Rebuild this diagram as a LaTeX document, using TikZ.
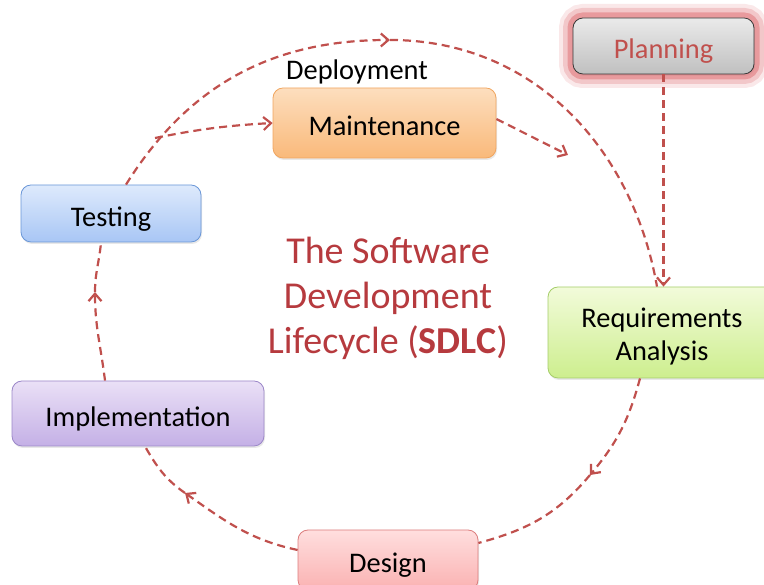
\documentclass[tikz,border=0pt]{standalone}
\usepackage{fontspec}
\setmainfont{Carlito}
\usepackage{tikz}
\usetikzlibrary{arrows.meta, calc, shadows}

\definecolor{flowred}{RGB}{192,80,77}
\definecolor{titlered}{RGB}{182,58,62}
\definecolor{glowred}{RGB}{220,100,105}

\begin{document}
\begin{tikzpicture}[x=1pt, y=1pt,
  box/.style={rounded corners=10pt, draw, line width=0.8pt, inner sep=0pt,
    font=\fontsize{28.4}{33}\selectfont, text height=26pt, text depth=0pt,
    drop shadow={opacity=0.18, shadow xshift=1pt, shadow yshift=-2pt}},
  glow/.style={preaction={draw=glowred, line width=28pt, opacity=0.15, rounded corners=10pt},
    preaction={draw=glowred, line width=20pt, opacity=0.25, rounded corners=10pt},
    preaction={draw=glowred, line width=11pt, opacity=0.45, rounded corners=10pt}},
  flow/.style={flowred, line width=2.2pt, dash pattern=on 8pt off 5pt},
  flowtip/.style={-{Straight Barb[length=7.5pt, width=13pt]}}]
\useasboundingbox (0,0) rectangle (764,585);

\node[box, glow, drop shadow={opacity=0}, draw={rgb,255:red,55;green,55;blue,55},
  top color={rgb,255:red,234;green,234;blue,234}, bottom color={rgb,255:red,192;green,192;blue,192},
  minimum width=181pt, minimum height=56pt, text=flowred]
  (planning) at (663.5,539) {Planning};
\node[box, draw={rgb,255:red,240;green,165;blue,95}, top color={rgb,255:red,253;green,222;blue,190},
  bottom color={rgb,255:red,249;green,185;blue,122}, minimum width=223pt, minimum height=70pt]
  (maint) at (384.5,462) {Maintenance};
\node[box, draw={rgb,255:red,105;green,150;blue,215}, top color={rgb,255:red,222;green,234;blue,252},
  bottom color={rgb,255:red,168;green,198;blue,245}, minimum width=180pt, minimum height=57pt]
  (testing) at (111,371.5) {Testing};
\node[box, draw={rgb,255:red,165;green,205;blue,105}, top color={rgb,255:red,242;green,251;blue,218},
  bottom color={rgb,255:red,205;green,238;blue,142}, minimum width=228pt, minimum height=91pt,
  text height=0pt, text depth=10.4pt]
  (req) at (662,252.5) {\begin{tabular}[t]{@{}c@{}}Requirements\\Analysis\end{tabular}};
\node[box, draw={rgb,255:red,155;green,135;blue,200}, top color={rgb,255:red,234;green,224;blue,246},
  bottom color={rgb,255:red,196;green,176;blue,230}, minimum width=252pt, minimum height=65pt]
  (impl) at (138,171.5) {Implementation};
\node[box, draw={rgb,255:red,220;green,125;blue,125}, top color={rgb,255:red,255;green,222;blue,222},
  bottom color={rgb,255:red,250;green,178;blue,178}, minimum width=180pt, minimum height=60pt]
  (design) at (388,25) {Design};

\node[font=\fontsize{28.4}{33}\selectfont] (deploy) at (357,513) {Deployment};
\node[font=\fontsize{38}{45}\selectfont, text=titlered, align=center] (title) at (388,286.5)
  {The Software\\Development\\Lifecycle (\textbf{SDLC})};

\coordinate (topmid) at (390,545);
\coordinate (branch) at (155,447);
\coordinate (deployend) at (568,430);
\coordinate (reqmid) at (590,110);
\coordinate (desmid) at (185,92);
\coordinate (impmid) at (95,293);

\draw[flow, flowtip] ([xshift=15pt]testing.north) to[out=58, in=180] (topmid);
\draw[flow] (topmid) to[out=0, in=100] ([xshift=-5pt]req.north);
\draw[flow, flowtip] (branch) to[bend left=4] (maint.west);
\draw[flow, flowtip] ([yshift=4pt]maint.east) -- (deployend);
\draw[flow, flowtip] ([xshift=-22pt]req.south) to[out=-105, in=50] (reqmid);
\draw[flow] (reqmid) to[out=-130, in=15] ([yshift=17pt]design.east);
\draw[flow, flowtip] ([yshift=10pt]design.west) to[out=168, in=-35] (desmid);
\draw[flow] (desmid) to[out=145, in=-60] ([xshift=7pt]impl.south);
\draw[flow, flowtip] ([xshift=-33pt]impl.north) to[out=97, in=-90] (impmid);
\draw[flow] (impmid) to[out=90, in=-95] ([xshift=-10pt]testing.south);
\draw[flow, flowtip] (planning.south) -- (planning.south |- req.north);
\end{tikzpicture}
\end{document}
